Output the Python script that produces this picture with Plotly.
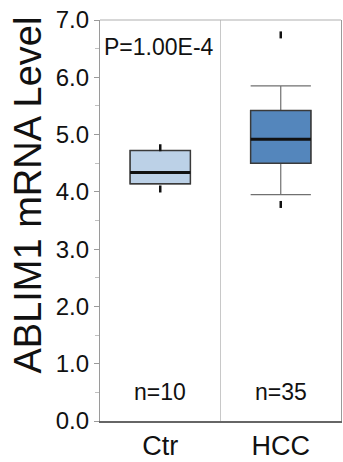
import plotly.graph_objects as go

categories = ["Ctr", "HCC"]
q1 = [4.14, 4.50]
median = [4.34, 4.92]
q3 = [4.72, 5.42]
lower_fence = [4.14, 3.95]
upper_fence = [4.72, 5.85]
outliers = [[4.77, 4.05], [6.74, 3.78]]
n_counts = [10, 35]
fill_colors = ["rgb(188,209,231)", "rgb(84,134,188)"]
p_text = "P=1.00E-4"
y_title = "ABLIM1 mRNA Level"
y_ticks = [0, 1, 2, 3, 4, 5, 6, 7]
y_tick_labels = ["0.0", "1.0", "2.0", "3.0", "4.0", "5.0", "6.0", "7.0"]

FONT = "Liberation Sans, Arial, sans-serif"

fig = go.Figure()
for i, cat in enumerate(categories):
    # whiskers (thin gray)
    fig.add_trace(go.Box(
        x=[cat], q1=[q1[i]], median=[median[i]], q3=[q3[i]],
        lowerfence=[lower_fence[i]], upperfence=[upper_fence[i]],
        width=0.5, whiskerwidth=1, fillcolor=fill_colors[i],
        line=dict(color="#707070", width=1.2), boxpoints=False,
        hoverinfo="skip", showlegend=False))
    # box body (dark outline)
    fig.add_trace(go.Box(
        x=[cat], q1=[q1[i]], median=[median[i]], q3=[q3[i]],
        lowerfence=[q1[i]], upperfence=[q3[i]],
        width=0.5, whiskerwidth=0, fillcolor=fill_colors[i],
        line=dict(color="#3a3a3a", width=1.5), boxpoints=False,
        hoverinfo="skip", showlegend=False))
    # median (thick black)
    fig.add_trace(go.Box(
        x=[cat], q1=[median[i]], median=[median[i]], q3=[median[i]],
        lowerfence=[median[i]], upperfence=[median[i]],
        width=0.5, whiskerwidth=0, fillcolor="rgba(0,0,0,0)",
        line=dict(color="#111111", width=3), boxpoints=False,
        hoverinfo="skip", showlegend=False))
    # outliers
    fig.add_trace(go.Scatter(
        x=[cat] * len(outliers[i]), y=outliers[i], mode="markers",
        marker=dict(symbol="line-ns", size=5,
                    line=dict(color="#111111", width=2.5)),
        hoverinfo="skip", showlegend=False))
    fig.add_annotation(
        x=cat, xref="x", y=0.072, yref="paper", text=f"n={n_counts[i]}",
        showarrow=False, yanchor="middle", xanchor="center",
        font=dict(family=FONT, size=23, color="#111"))

fig.add_annotation(
    x=0.01, xref="paper", y=0.933, yref="paper", text=p_text,
    showarrow=False, xanchor="left", yanchor="middle",
    font=dict(family=FONT, size=23, color="#111"))

fig.add_annotation(
    x=-0.30, xref="paper", y=0.564, yref="paper", text=y_title,
    textangle=-90, showarrow=False, xanchor="center", yanchor="middle",
    font=dict(family=FONT, size=38, color="#111"))

fig.add_shape(type="line", xref="paper", yref="paper", x0=0, x1=1, y0=1, y1=1,
              line=dict(color="#b0b0b0", width=1.2))

fig.update_layout(
    width=343, height=462,
    margin=dict(l=100, r=1, t=20, b=38),
    paper_bgcolor="white", plot_bgcolor="white",
    boxmode="overlay",
    xaxis=dict(
        type="category", categoryorder="array", categoryarray=categories,
        range=[-0.5, 1.5],
        showline=True, linecolor="#666666", linewidth=2,
        showgrid=True, gridcolor="#c8c8c8", gridwidth=1, tickson="boundaries",
        ticks="", tickfont=dict(family=FONT, size=27, color="#111"),
        zeroline=False, fixedrange=True),
    yaxis=dict(
        range=[0, 7], tickvals=y_ticks, ticktext=y_tick_labels,
        showline=True, linecolor="#9a9a9a", linewidth=1.2, mirror=True,
        showgrid=False, zeroline=False,
        ticks="outside", ticklen=5, tickcolor="#9a9a9a", tickwidth=1,
        minor=dict(dtick=0.5, ticks="outside", ticklen=4, tickcolor="#c0c0c0", showgrid=False),
        tickfont=dict(family=FONT, size=24, color="#111"),
        fixedrange=True),
)

fig.write_html("out.html", config={"displayModeBar": False},
               post_script="document.body.style.margin='0';document.body.style.overflow='hidden';")
